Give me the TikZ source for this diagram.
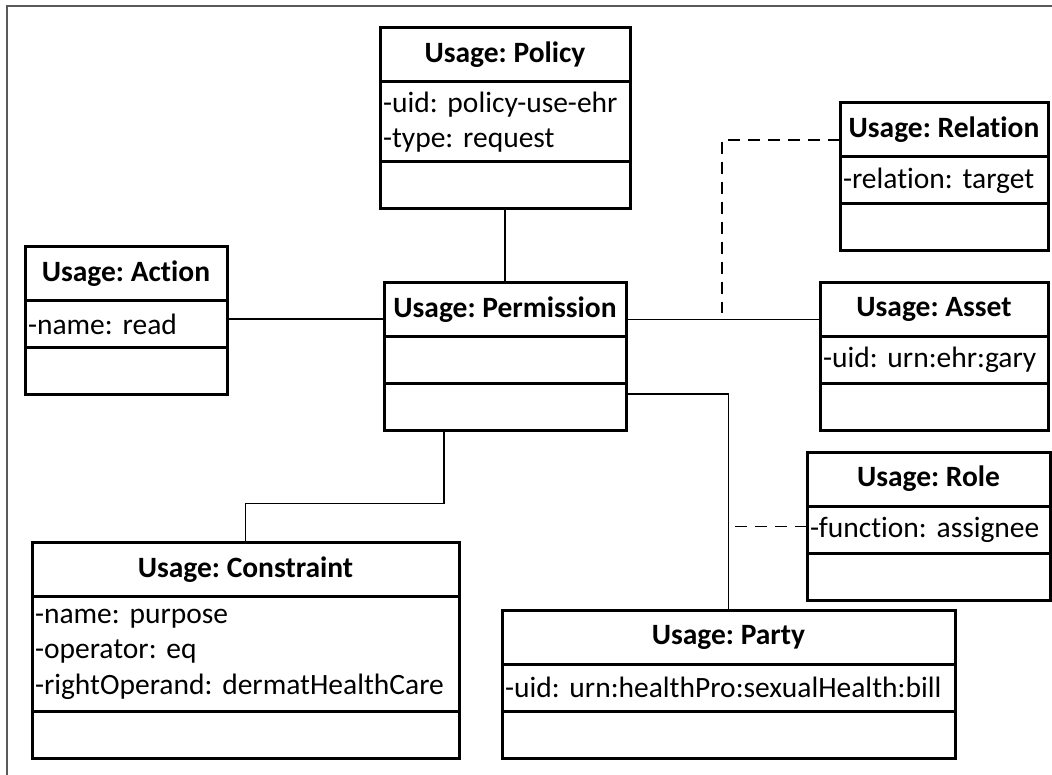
\documentclass[tikz,border=0pt]{standalone}
\usepackage{fontspec}
\setmainfont[Ligatures=NoCommon]{Carlito}
\frenchspacing
\usetikzlibrary{positioning}
\tikzset{%
  % class boxes: name, attribute and operation compartments
      base/.style = {rectangle, draw=black, line width=3pt,
                     inner sep=0pt, outer sep=0pt,
                     font=\fontsize{29.5}{35.5}\selectfont},
      head/.style = {base, minimum height=54pt,
                     font=\fontsize{29.5}{35.5}\selectfont\bfseries},
     attrs/.style = {base, minimum height=47pt, inner xsep=3pt, align=left},
     opers/.style = {base, minimum height=47pt},
  % connectors
      link/.style = {draw=black, line width=1.8pt},
  dashlink/.style = {link, dash pattern=on 12pt off 8pt},
}

\begin{document}
\begin{tikzpicture}[x=1pt, y=-1pt]
  \useasboundingbox (0,0) rectangle (1052,775);
  \draw[gray!70!black, line width=2pt] (7,775) -- (7,6) -- (1052,6);

  % Specification of class boxes
  \node (policy)      [head, minimum width=250pt] at (505,55) {Usage: Policy};
  \node (policyA)     [attrs, text width=244pt, minimum height=80pt, below=0pt of policy]
                      {-uid: policy-use-ehr\\-type: request};
  \node (policyO)     [opers, minimum width=250pt, below=0pt of policyA] {};

  \node (relation)    [head, minimum width=208pt] at (944,130) {Usage: Relation};
  \node (relationA)   [attrs, text width=202pt, below=0pt of relation] {-relation: target};
  \node (relationO)   [opers, minimum width=208pt, below=0pt of relationA] {};

  \node (action)      [head, minimum width=202pt] at (126,273.5) {Usage: Action};
  \node (actionA)     [attrs, text width=196pt, below=0pt of action] {-name: read};
  \node (actionO)     [opers, minimum width=202pt, below=0pt of actionA] {};

  \node (perm)        [head, minimum width=242pt] at (505,309.5) {Usage: Permission};
  \node (permA)       [opers, minimum width=242pt, below=0pt of perm] {};
  \node (permO)       [opers, minimum width=242pt, below=0pt of permA] {};

  \node (asset)       [head, minimum width=228pt] at (934,309.5) {Usage: Asset};
  \node (assetA)      [attrs, text width=222pt, below=0pt of asset] {-uid: urn:ehr:gary};
  \node (assetO)      [opers, minimum width=228pt, below=0pt of assetA] {};

  \node (role)        [head, minimum width=243pt] at (928.5,479) {Usage: Role};
  \node (roleA)       [attrs, text width=237pt, below=0pt of role] {-function: assignee};
  \node (roleO)       [opers, minimum width=243pt, below=0pt of roleA] {};

  \node (constraint)  [head, minimum width=427pt] at (245.5,569.5) {Usage: Constraint};
  \node (constraintA) [attrs, text width=421pt, minimum height=115pt, below=0pt of constraint]
                      {-name: purpose\\-operator: eq\\-rightOperand: dermatHealthCare};
  \node (constraintO) [opers, minimum width=427pt, below=0pt of constraintA] {};

  \node (party)       [head, minimum width=453pt] at (728.5,637) {Usage: Party};
  \node (partyA)      [attrs, text width=447pt, below=0pt of party]
                      {-uid: urn:healthPro:sexualHealth:bill};
  \node (partyO)      [opers, minimum width=453pt, below=0pt of partyA] {};

  % free ends of the dashed lines
  \coordinate (relEnd)  at (722,313);
  \coordinate (roleEnd) at ([xshift=-74pt, yshift=3pt]roleA.west);

  % Specification of lines between nodes
  \draw[link] (policyO) -- (perm);
  \draw[link] ([yshift=5pt]actionA.east) -- ([yshift=5pt]actionA.east -| perm.west);
  \draw[link] ([yshift=-10pt]perm.east) -- ([yshift=-10pt]perm.east -| asset.west);
  \draw[dashlink] ([yshift=-10pt]relation.west) -| (relEnd);
  \draw[link] ([yshift=13pt]permO.east) -| (party);
  \draw[dashlink] ([yshift=3pt]roleA.west) -- (roleEnd);
  \draw[link] ([xshift=-61pt]permO.south) -- ++(0,73) -| (constraint);
\end{tikzpicture}
\end{document}
